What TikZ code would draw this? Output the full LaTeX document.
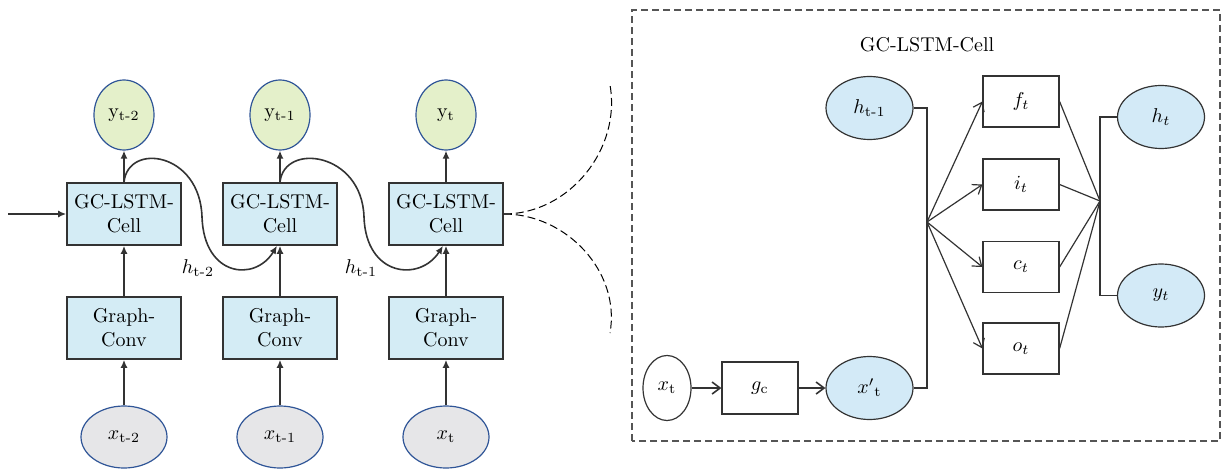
\documentclass[tikz,border=0pt]{standalone}
\usepackage{amsmath}
\usetikzlibrary{arrows.meta,shapes.geometric,positioning}
\definecolor{CellFill}{HTML}{D4ECF5}
\definecolor{OutFill}{HTML}{E4F0CA}
\definecolor{InFill}{HTML}{E6E6E8}
\definecolor{Rim}{HTML}{2F5597}
\definecolor{Edge}{HTML}{333333}
\definecolor{StateFill}{HTML}{D3EAF7}
\definecolor{Frame}{HTML}{555555}
\tikzset{
  cellbox/.style={draw=Edge,fill=CellFill,line width=0.8pt,minimum width=57pt,minimum height=31pt,inner sep=1pt,align=center},
  outbub/.style={ellipse,draw=Rim,fill=OutFill,line width=0.6pt,minimum width=30pt,minimum height=35pt,inner sep=0pt},
  inbub/.style={ellipse,draw=Rim,fill=InFill,line width=0.6pt,minimum width=43pt,minimum height=31pt,inner sep=0pt},
  flow/.style={draw=Edge,line width=0.8pt,-{Latex[length=4pt,width=3.5pt]}},
  gatebox/.style={draw=Edge,line width=0.6pt,minimum width=38pt,minimum height=25.5pt,inner sep=0pt},
  statebub/.style={ellipse,draw=Edge,fill=StateFill,line width=0.6pt,minimum width=43.5pt,minimum height=31.5pt,inner sep=0pt},
  wire/.style={draw=Edge,line width=0.6pt},
  feed/.style={wire,-{Straight Barb[length=4pt,width=6pt]}},
}

\begin{document}
\begin{tikzpicture}[x=0.5pt,y=0.5pt]
  \useasboundingbox (0,0) rectangle (1224,472);
  % unrolled chain, one column per time step
  \foreach \i/\cx/\sub in {1/124/t-2,2/280/t-1,3/446/t} {
    \node[cellbox] (cell\i) at (\cx,258) {GC-LSTM-\\Cell};
    \node[cellbox] (conv\i) at (\cx,144) {Graph-\\Conv};
    \node[outbub] (y\i) at (\cx,357) {$\mathrm{y}_{\text{\sub}}$};
    \node[inbub] (x\i) at (\cx,35) {$x_{\text{\sub}}$};
    \draw[flow] (x\i) -- (conv\i);
    \draw[flow] (conv\i) -- (cell\i);
    \draw[flow] (cell\i) -- (y\i);
  }
  \coordinate (feedin) at (8,258);
  \draw[flow] (feedin) -- (cell1);
  % hidden state passed to the next cell
  \draw[flow] (cell1.north) .. controls (128,330) and (200,320) .. (202,255)
    .. controls (204,195) and (255,190) .. ([xshift=-1.5pt]cell2.south);
  \draw[flow] (cell2.north) .. controls (284,330) and (362,320) .. (364,255)
    .. controls (366,195) and (420,190) .. ([xshift=-1.5pt]cell3.south);
  \node (hlab1) at (198,204) {$h_{\text{t-2}}$};
  \node (hlab2) at (361,204) {$h_{\text{t-1}}$};
  % opening lines towards the detail
  \coordinate (zoomtop) at (610,387);
  \coordinate (zoombot) at (610,139);
  \draw[dash pattern=on 4pt off 2pt,line width=0.5pt] (cell3.east) to[out=0,in=-80] (zoomtop);
  \draw[dash pattern=on 4pt off 2pt,line width=0.5pt] (cell3.east) to[out=0,in=80] (zoombot);

  % inside one cell
  \draw[Frame,dash pattern=on 3.5pt off 2pt,line width=0.7pt] (632,31) rectangle (1220,462);
  \node (title) at (927,427) {GC-LSTM-Cell};
  \node[statebub] (hprev) at (869.5,364) {$h_{\text{t-1}}$};
  \node[ellipse,draw=Edge,line width=0.6pt,minimum width=24pt,minimum height=32.5pt,inner sep=0pt] (xin) at (667,84) {$x_{\text{t}}$};
  \node[gatebox,minimum height=26pt] (gc) at (760,84) {$g_{\text{c}}$};
  \node[statebub] (xmap) at (869.5,84) {${x'}_{\text{t}}$};
  \foreach \g/\gy in {f/370.5,i/287.5,c/205,o/123.5}
    \node[gatebox] (gate\g) at (1021,\gy) {$\g_t$};
  \node[statebub] (hnext) at (1161,355) {$h_t$};
  \node[statebub] (ynext) at (1161,176.5) {$y_t$};
  \coordinate (split) at (927,250);
  \coordinate (merge) at (1100,271);
  \draw[feed,line width=0.8pt] (xin) -- (gc);
  \draw[feed,line width=0.8pt] (gc) -- (xmap);
  \draw[wire] (hprev.east) -| (split);
  \draw[wire] (xmap.east) -| (split);
  \foreach \g in {f,i,c,o} {
    \draw[feed] (split) -- (gate\g.west);
    \draw[wire] (gate\g.east) -- (merge);
  }
  \draw[wire] (hnext.west) -| (merge);
  \draw[wire] (ynext.west) -| (merge);
\end{tikzpicture}
\end{document}
